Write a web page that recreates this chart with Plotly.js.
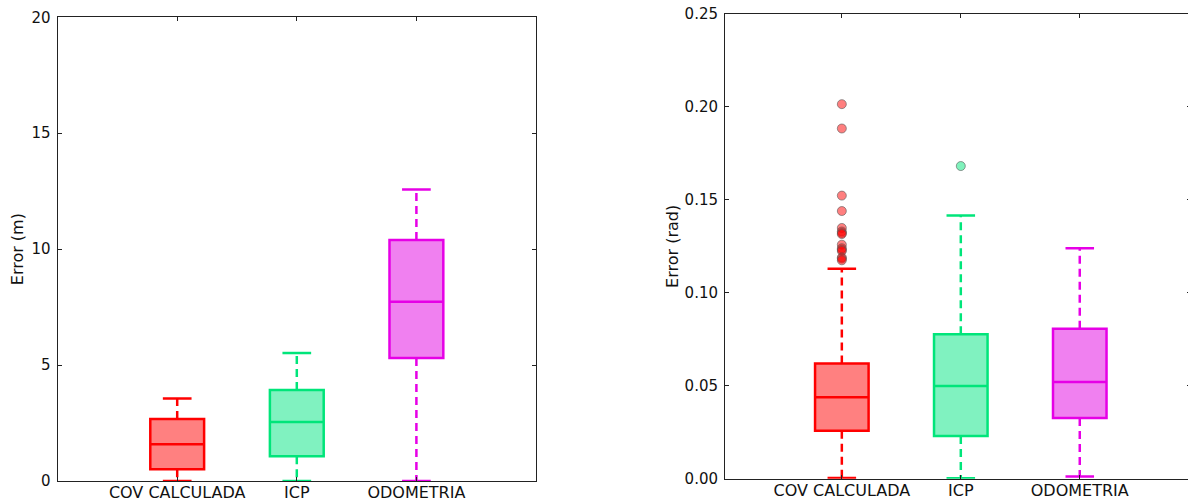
<!DOCTYPE html>
<html>
<head>
<meta charset="utf-8">
<script src="https://cdn.plot.ly/plotly-3.0.1.min.js"></script>
<style>
  html, body { margin: 0; padding: 0; overflow: hidden; background: #fff; }
  #chart { width: 1196px; height: 502px; }
</style>
</head>
<body>
<div id="chart"></div>
<script>
// ---- data ----
const categories = ['COV CALCULADA', 'ICP', 'ODOMETRIA'];
const positions = [1, 2, 3];

// translation error (m)
const transMin = [0.00, 0.00, 0.00];
const transQ1  = [0.51, 1.07, 5.31];
const transMed = [1.59, 2.55, 7.73];
const transQ3  = [2.67, 3.92, 10.40];
const transMax = [3.56, 5.52, 12.57];

// rotation error (rad)
const rotMin = [0.0004, 0.0002, 0.0012];
const rotQ1  = [0.0258, 0.0230, 0.0327];
const rotMed = [0.0438, 0.0499, 0.0520];
const rotQ3  = [0.0620, 0.0777, 0.0807];
const rotMax = [0.1130, 0.1416, 0.1240];
const rotOutliersCov = [0.2015, 0.1884, 0.1523, 0.1440, 0.1349, 0.1330, 0.1322, 0.1316,
                        0.1259, 0.1240, 0.1232, 0.1225, 0.1190, 0.1184, 0.1175];
const rotOutliersIcp = [0.1682];
const rotOutliersOdo = [];

// ---- styles ----
const lineColors = ['#ff0000', '#00e57a', '#e600e6'];
const fillColors = ['#ff8080', '#80f2c0', '#f080f0'];
const outlierFill = ['rgba(255,0,0,0.5)', 'rgba(0,229,122,0.5)', 'rgba(230,0,230,0.5)'];
const BOXW = 0.45, CAPHALF = 0.12, LW = 2.5;
const FONT = 'DejaVu Sans, Liberation Sans, sans-serif';

const W = 1196, H = 502;
const px = v => v / W;
const py = v => (H - v) / H;

const traces = [];
function addGroup(xa, ya, mins, q1, med, q3, maxs, outliers) {
  for (let i = 0; i < categories.length; i++) {
    const p = positions[i];
    // dashed whiskers
    traces.push({
      type: 'scatter', mode: 'lines', xaxis: xa, yaxis: ya, showlegend: false, hoverinfo: 'skip',
      x: [p, p, null, p, p], y: [q3[i], maxs[i], null, q1[i], mins[i]],
      line: { color: lineColors[i], width: LW, dash: '8px,5px' }
    });
    // caps
    traces.push({
      type: 'scatter', mode: 'lines', xaxis: xa, yaxis: ya, showlegend: false, hoverinfo: 'skip',
      cliponaxis: false,
      x: [p - CAPHALF, p + CAPHALF, null, p - CAPHALF, p + CAPHALF],
      y: [maxs[i], maxs[i], null, mins[i], mins[i]],
      line: { color: lineColors[i], width: LW }
    });
    // box body + median
    traces.push({
      type: 'box', xaxis: xa, yaxis: ya, showlegend: false, name: categories[i],
      x: [p], q1: [q1[i]], median: [med[i]], q3: [q3[i]],
      lowerfence: [q1[i]], upperfence: [q3[i]],
      width: BOXW, whiskerwidth: 0, boxpoints: false,
      fillcolor: fillColors[i], line: { color: lineColors[i], width: LW }
    });
    // outliers
    if (outliers && outliers[i] && outliers[i].length) {
      traces.push({
        type: 'scatter', mode: 'markers', xaxis: xa, yaxis: ya, showlegend: false,
        x: outliers[i].map(() => p), y: outliers[i],
        marker: { size: 9, color: outlierFill[i], line: { color: 'rgba(90,90,90,0.6)', width: 1 } }
      });
    }
  }
}
addGroup('x', 'y', transMin, transQ1, transMed, transQ3, transMax, null);
addGroup('x2', 'y2', rotMin, rotQ1, rotMed, rotQ3, rotMax, [rotOutliersCov, rotOutliersIcp, rotOutliersOdo]);

const axisCommon = {
  showgrid: false, zeroline: false, showline: true, linecolor: '#222', linewidth: 1,
  mirror: 'ticks', ticks: 'inside', ticklen: 4, tickcolor: '#222', tickwidth: 1,
  tickfont: { family: FONT, size: 15, color: '#111' }
};
const xTickFont = { family: FONT, size: 16, color: '#111' };
const titleFont = { family: FONT, size: 16, color: '#111' };

const layout = {
  width: W, height: H,
  margin: { l: 0, r: 0, t: 0, b: 0 },
  paper_bgcolor: '#fff', plot_bgcolor: '#fff',
  showlegend: false,
  font: { family: FONT, size: 15, color: '#111' },
  xaxis: Object.assign({}, axisCommon, {
    domain: [px(57.6), px(536)], anchor: 'y', range: [0, 4], tickfont: xTickFont,
    tickmode: 'array', tickvals: positions, ticktext: categories, ticklabelstandoff: -3
  }),
  yaxis: Object.assign({}, axisCommon, {
    domain: [py(481), py(17.3)], anchor: 'x', range: [0, 20],
    tickmode: 'linear', tick0: 0, dtick: 5, ticklabelstandoff: 3,
    title: { text: 'Error (m)', font: titleFont, standoff: 3 }
  }),
  xaxis2: Object.assign({}, axisCommon, {
    domain: [px(725), px(1191)], anchor: 'y2', range: [0.018, 3.935], tickfont: xTickFont,
    tickmode: 'array', tickvals: positions, ticktext: categories, ticklabelstandoff: -3
  }),
  yaxis2: Object.assign({}, axisCommon, {
    domain: [py(478.7), py(14)], anchor: 'x2', range: [0, 0.25],
    tickmode: 'linear', tick0: 0, dtick: 0.05, tickformat: '.2f', ticklabelstandoff: 3,
    title: { text: 'Error (rad)', font: titleFont, standoff: 1 }
  })
};

Plotly.newPlot('chart', traces, layout, { displayModeBar: false, staticPlot: true });
</script>
</body>
</html>
